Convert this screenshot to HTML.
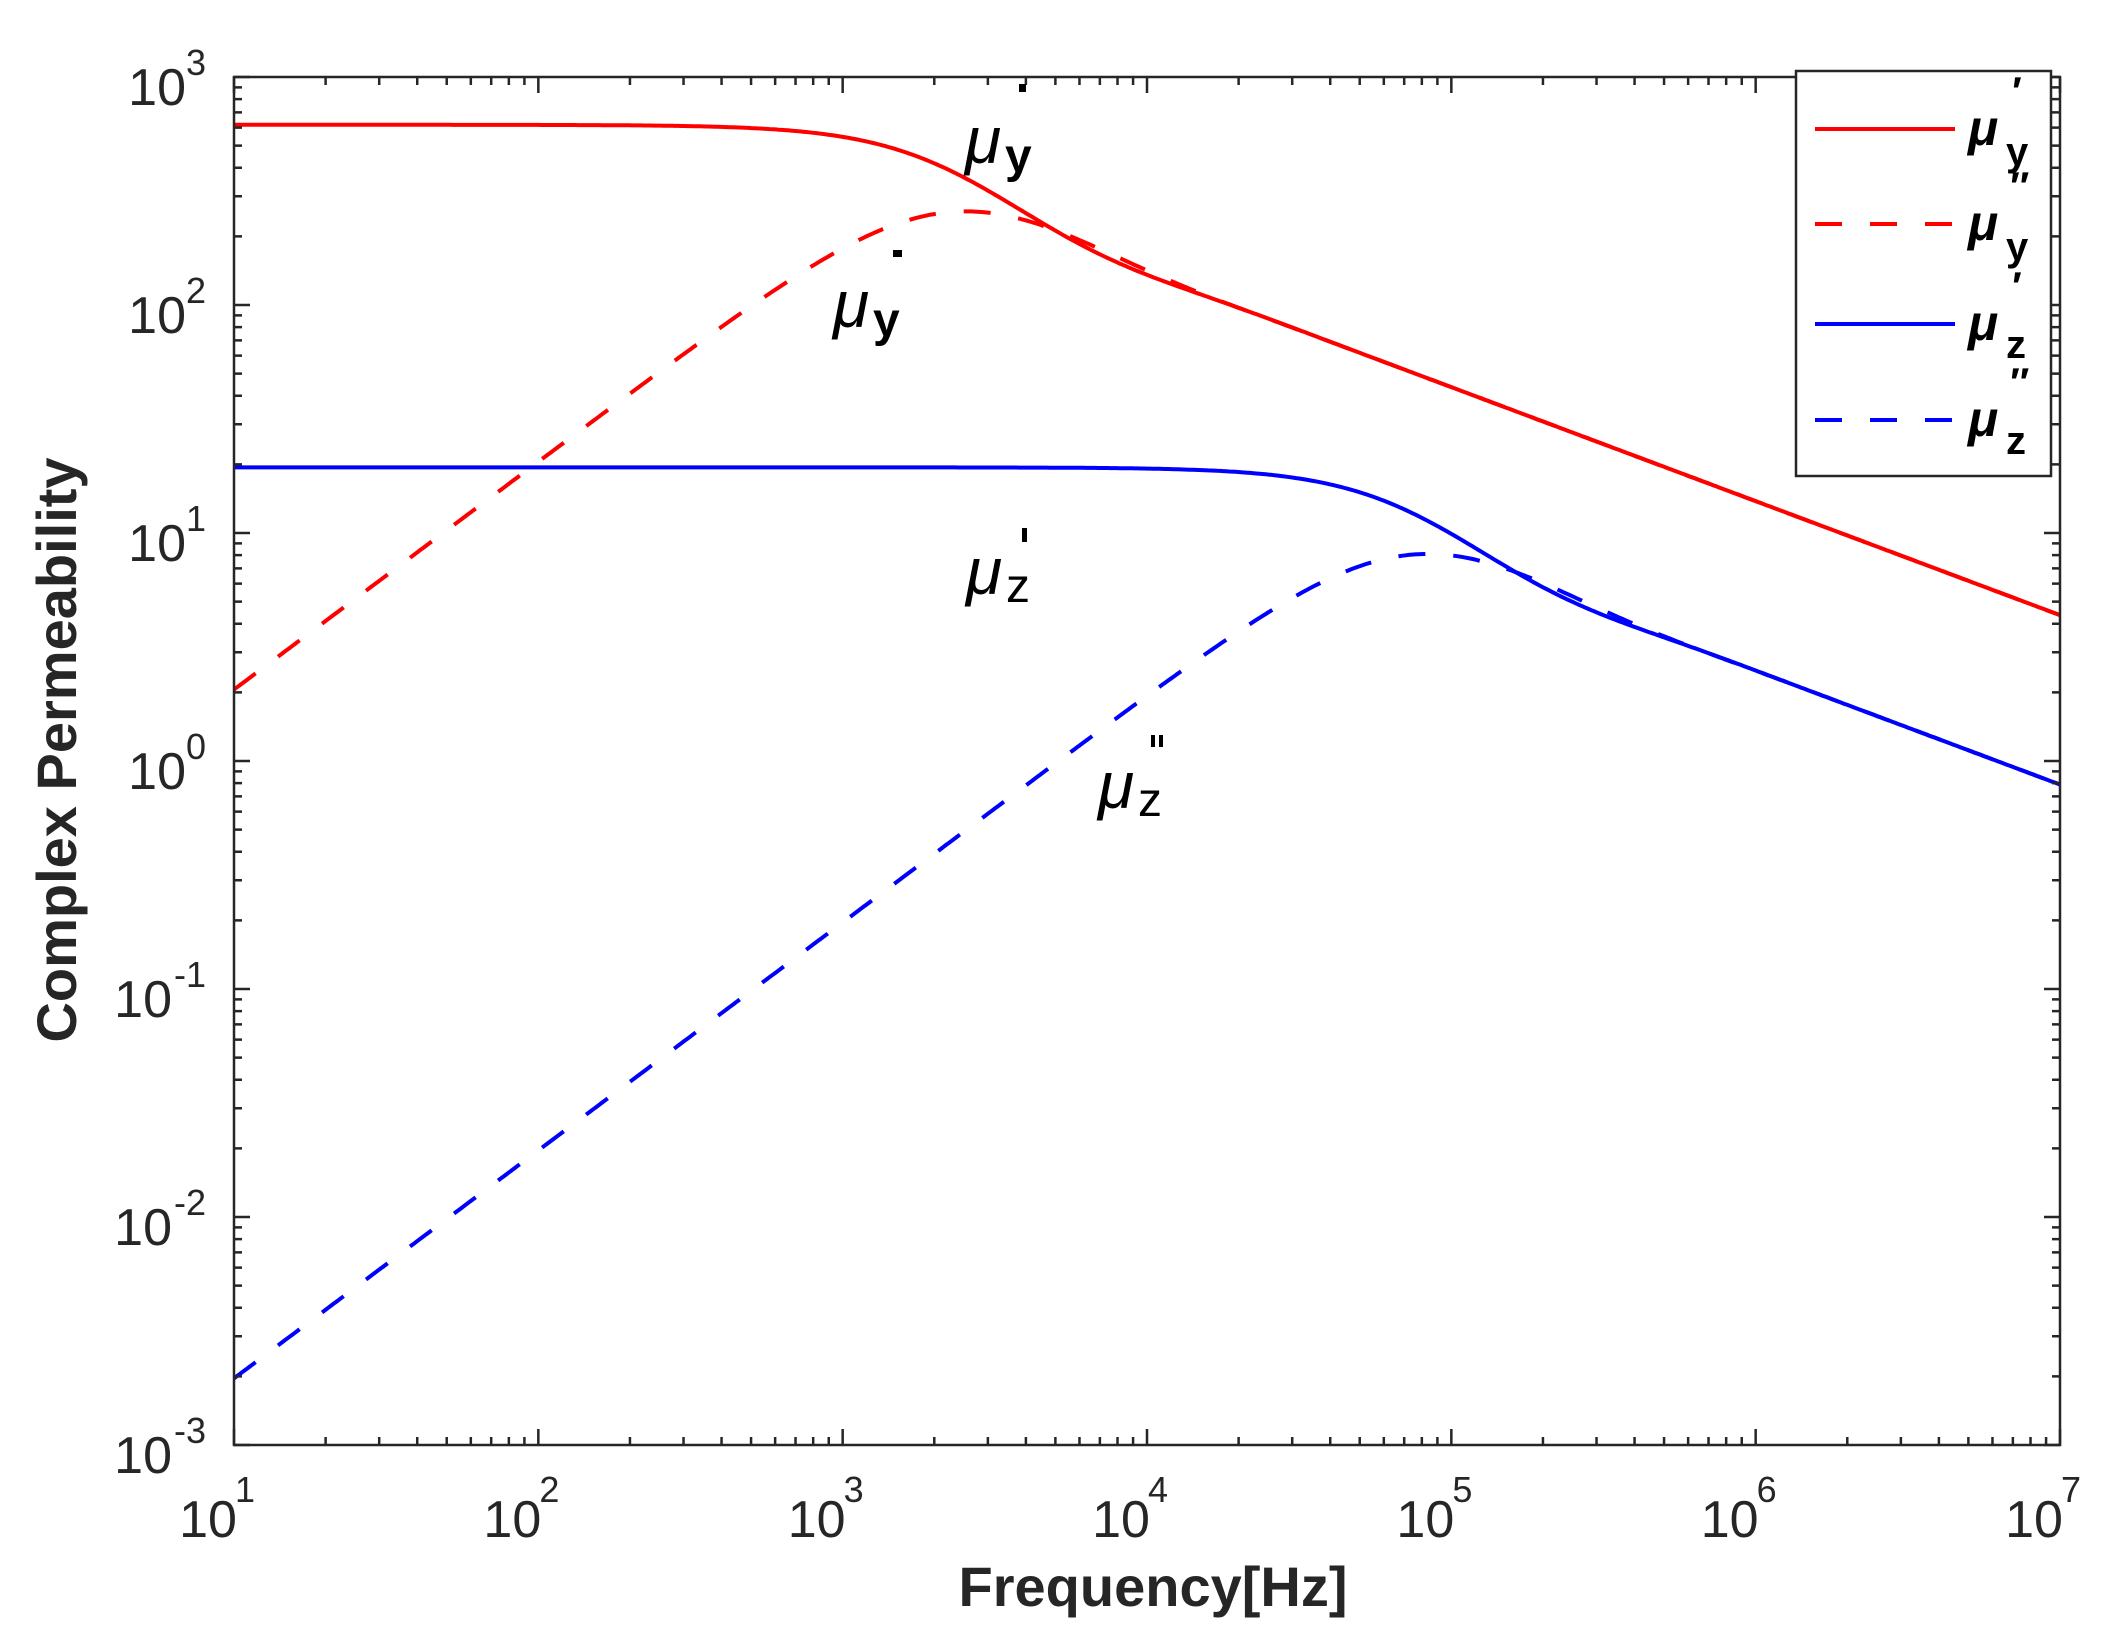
<!DOCTYPE html>
<html><head><meta charset="utf-8"><style>
html,body{margin:0;padding:0;background:#fff;}
svg{display:block;}
text{font-family:"Liberation Sans",Arial,sans-serif;fill:#262626;}
</style></head><body>
<svg id="s" width="2128" height="1652" viewBox="0 0 2128 1652" xmlns="http://www.w3.org/2000/svg">
<rect width="2128" height="1652" fill="#fff"/>
<g id="curves"></g>
<g id="axes"></g>
<g id="labels"></g>
<!-- titles -->
<text x="1153" y="1606" font-size="56" font-weight="bold" text-anchor="middle">Frequency[Hz]</text>
<text transform="translate(76,750) rotate(-90)" font-size="56" font-weight="bold" text-anchor="middle">Complex Permeability</text>
<!-- annotations -->
<g fill="#000" font-family="Liberation Sans, sans-serif">
<text x="965" y="163" font-size="66" font-style="italic" style="fill:#000">μ</text>
<text x="1005" y="172" font-size="48" font-weight="bold" style="fill:#000">y</text>
<rect x="1019" y="84" width="7" height="8" fill="#000"/>
<text x="833" y="327" font-size="66" font-style="italic" style="fill:#000">μ</text>
<text x="873" y="336" font-size="48" font-weight="bold" style="fill:#000">y</text>
<rect x="893" y="250" width="9" height="7" fill="#000"/>
<text x="966" y="594" font-size="66" font-style="italic" style="fill:#000">μ</text>
<text x="1006" y="602" font-size="48" style="fill:#000">z</text>
<rect x="1022" y="528" width="5" height="14" fill="#000"/>
<text x="1098" y="808" font-size="66" font-style="italic" style="fill:#000">μ</text>
<text x="1138" y="816" font-size="48" style="fill:#000">z</text>
<rect x="1151" y="735" width="4" height="12" fill="#000"/><rect x="1159" y="735" width="4" height="12" fill="#000"/>
</g>
<!-- legend -->
<rect x="1796" y="71" width="255" height="405" fill="#fff" stroke="#262626" stroke-width="2.5"/>
<line x1="1815" y1="129" x2="1955" y2="129" stroke="#ff0000" stroke-width="4"/>
<line x1="1815" y1="224" x2="1955" y2="224" stroke="#ff0000" stroke-width="4" stroke-dasharray="27,28"/>
<line x1="1815" y1="324" x2="1955" y2="324" stroke="#0000ff" stroke-width="4"/>
<line x1="1815" y1="420" x2="1955" y2="420" stroke="#0000ff" stroke-width="4" stroke-dasharray="27,28"/>
<g font-weight="bold">
<text x="1968" y="145" font-size="50" font-style="italic" style="fill:#000">μ</text><text x="2006" y="165" font-size="40" style="fill:#000">y</text><text x="2010" y="105" font-size="40" font-style="italic" style="fill:#000">′</text>
<text x="1968" y="240" font-size="50" font-style="italic" style="fill:#000">μ</text><text x="2006" y="260" font-size="40" style="fill:#000">y</text><text x="2008" y="200" font-size="40" font-style="italic" style="fill:#000">″</text>
<text x="1968" y="340" font-size="50" font-style="italic" style="fill:#000">μ</text><text x="2006" y="358" font-size="40" style="fill:#000">z</text><text x="2010" y="300" font-size="40" font-style="italic" style="fill:#000">′</text>
<text x="1968" y="436" font-size="50" font-style="italic" style="fill:#000">μ</text><text x="2006" y="454" font-size="40" style="fill:#000">z</text><text x="2008" y="396" font-size="40" font-style="italic" style="fill:#000">″</text>
</g>
</svg>
<script>
(function(){
var L=234,T=77,R=2060,B=1445;
var xd=(R-L)/6, yd=(B-T)/6;
function X(f){return L+(Math.log10(f)-1)*xd;}
function Y(v){return T+(3-Math.log10(v))*yd;}
var NS="http://www.w3.org/2000/svg";
function el(tag,attrs,parent){var e=document.createElementNS(NS,tag);for(var k in attrs)e.setAttribute(k,attrs[k]);(parent||document.getElementById('s')).appendChild(e);return e;}
function mu(f,m0,fc){
  var r=f/fc, a=Math.sqrt(r/2);
  var d=Math.cosh(2*a)+Math.cos(2*a);
  var tr=Math.sinh(2*a)/d, ti=Math.sin(2*a)/d;
  if(!isFinite(tr)){tr=1;ti=0;}
  // divide by x = a(1+i)
  var xr=a,xi=a,den=xr*xr+xi*xi;
  var qr=(tr*xr+ti*xi)/den, qi=(ti*xr-tr*xi)/den;
  return [m0*qr, Math.abs(m0*qi)];
}
var cg=document.getElementById('curves');
var sets=[[617,1000,'#ff0000'],[19.4,33000,'#0000ff']];
sets.forEach(function(s){
  var p1='',p2='';
  for(var i=0;i<=600;i++){
    var lf=1+6*i/600,f=Math.pow(10,lf);
    var m=mu(f,s[0],s[1]);
    p1+=(i?'L':'M')+X(f).toFixed(1)+','+Y(m[0]).toFixed(1);
    p2+=(i?'L':'M')+X(f).toFixed(1)+','+Y(Math.max(m[1],1e-4)).toFixed(1);
  }
  el('path',{d:p1,fill:'none',stroke:s[2],'stroke-width':4},cg);
  el('path',{d:p2,fill:'none',stroke:s[2],'stroke-width':4,'stroke-dasharray':'27,28'},cg);
});
var ag=document.getElementById('axes');
el('rect',{x:L,y:T,width:R-L,height:B-T,fill:'none',stroke:'#262626','stroke-width':2.5},ag);
var tk='';
for(var d=1;d<=7;d++){
  for(var k=1;k<=9;k++){
    if(d==7&&k>1)break;
    var x=X(k*Math.pow(10,d)),len=(k==1)?16:8;
    tk+='M'+x+','+B+'v'+(-len)+'M'+x+','+T+'v'+len;
  }
}
for(var d=-3;d<=3;d++){
  for(var k=1;k<=9;k++){
    if(d==3&&k>1)break;
    var y=Y(k*Math.pow(10,d)),len=(k==1)?16:8;
    tk+='M'+L+','+y+'h'+len+'M'+R+','+y+'h'+(-len);
  }
}
el('path',{d:tk,stroke:'#262626','stroke-width':2.5,fill:'none'},ag);
var lg=document.getElementById('labels');
for(var d=1;d<=7;d++){
  var x=X(Math.pow(10,d));
  var t=el('text',{x:x-26,y:1537,'font-size':52,'text-anchor':'middle'},lg);t.textContent='10';
  var s2=el('text',{x:x+1,y:1502,'font-size':36,'text-anchor':'start'},lg);s2.textContent=String(d);
}
for(var d=-3;d<=3;d++){
  var y=Y(Math.pow(10,d));
  var sup=String(d).replace('-','-');
  var s3=el('text',{x:206,y:y-2,'font-size':36,'text-anchor':'end'},lg);s3.textContent=sup;
  var w=(d<0)?34:20;
  var t2=el('text',{x:206-w,y:y+28,'font-size':52,'text-anchor':'end'},lg);t2.textContent='10';
}
})();
</script>
</body></html>
